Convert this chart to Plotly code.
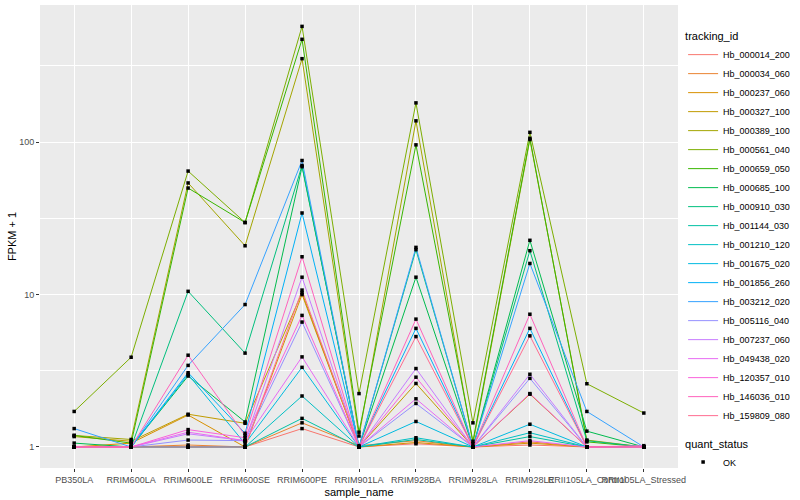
import plotly.graph_objects as go

samples = ["PB350LA", "RRIM600LA", "RRIM600LE", "RRIM600SE", "RRIM600PE", "RRIM901LA",
           "RRIM928BA", "RRIM928LA", "RRIM928LE", "RRII105LA_Control", "RRII105LA_Stressed"]

tracking_ids = ["Hb_000014_200", "Hb_000034_060", "Hb_000237_060", "Hb_000327_100",
                "Hb_000389_100", "Hb_000561_040", "Hb_000659_050", "Hb_000685_100",
                "Hb_000910_030", "Hb_001144_030", "Hb_001210_120", "Hb_001675_020",
                "Hb_001856_260", "Hb_003212_020", "Hb_005116_040", "Hb_007237_060",
                "Hb_049438_020", "Hb_120357_010", "Hb_146036_010", "Hb_159809_080"]

colors = ["#F8766D", "#EA8331", "#D89000", "#C09B00", "#A3A500", "#7CAE00", "#39B600",
          "#00BB4E", "#00BF7D", "#00C1A3", "#00BFC4", "#00BAE0", "#00B0F6", "#35A2FF",
          "#9590FF", "#C77CFF", "#E76BF3", "#FA62DB", "#FF62BC", "#FF6C91"]

# FPKM + 1 per tracking_id, in sample order
Hb_000014_200 = [1.00, 1.00, 1.00, 1.00, 1.32, 1.00, 1.05, 1.00, 1.03, 1.00, 1.00]
Hb_000034_060 = [1.00, 1.00, 1.03, 1.00, 1.44, 1.02, 1.10, 1.00, 1.08, 1.00, 1.00]
Hb_000237_060 = [1.00, 1.06, 1.62, 1.00, 10.0, 1.00, 1.07, 1.00, 1.06, 1.00, 1.00]
Hb_000327_100 = [1.17, 1.09, 1.64, 1.43, 10.3, 1.00, 2.61, 1.00, 2.22, 1.00, 1.00]
Hb_000389_100 = [1.19, 1.12, 54.0, 20.9, 353, 1.18, 138, 1.05, 104, 1.11, 1.00]
Hb_000561_040 = [1.71, 3.88, 64.6, 29.7, 575, 2.24, 181, 1.44, 116, 2.60, 1.67]
Hb_000659_050 = [1.19, 1.06, 50.0, 29.7, 473, 1.25, 96.0, 1.09, 106, 1.08, 1.00]
Hb_000685_100 = [1.06, 1.00, 2.92, 1.46, 69.0, 1.00, 13.0, 1.00, 22.7, 1.27, 1.00]
Hb_000910_030 = [1.00, 1.00, 10.5, 4.13, 70.3, 1.00, 19.7, 1.00, 19.4, 1.10, 1.00]
Hb_001144_030 = [1.00, 1.00, 1.00, 1.00, 1.54, 1.00, 1.12, 1.00, 1.17, 1.00, 1.00]
Hb_001210_120 = [1.00, 1.00, 1.00, 1.00, 2.16, 1.00, 1.15, 1.00, 1.24, 1.00, 1.00]
Hb_001675_020 = [1.00, 1.00, 2.99, 1.05, 3.33, 1.00, 1.47, 1.00, 1.41, 1.00, 1.00]
Hb_001856_260 = [1.00, 1.00, 3.07, 1.23, 34.3, 1.00, 6.00, 1.00, 6.00, 1.00, 1.00]
Hb_003212_020 = [1.32, 1.00, 3.43, 8.60, 75.8, 1.00, 20.4, 1.00, 16.0, 1.71, 1.00]
Hb_005116_040 = [1.00, 1.00, 1.11, 1.10, 6.60, 1.00, 1.93, 1.00, 2.82, 1.00, 1.00]
Hb_007237_060 = [1.00, 1.00, 1.22, 1.10, 13.0, 1.00, 3.27, 1.00, 3.00, 1.00, 1.00]
Hb_049438_020 = [1.00, 1.00, 1.25, 1.10, 3.90, 1.00, 2.07, 1.00, 1.10, 1.00, 1.00]
Hb_120357_010 = [1.00, 1.00, 1.30, 1.15, 7.30, 1.00, 2.87, 1.00, 2.24, 1.00, 1.02]
Hb_146036_010 = [1.00, 1.00, 4.00, 1.19, 17.7, 1.00, 6.90, 1.00, 7.43, 1.00, 1.00]
Hb_159809_080 = [1.00, 1.00, 1.00, 1.00, 10.7, 1.00, 5.30, 1.00, 5.36, 1.00, 1.00]

series = [Hb_000014_200, Hb_000034_060, Hb_000237_060, Hb_000327_100, Hb_000389_100,
          Hb_000561_040, Hb_000659_050, Hb_000685_100, Hb_000910_030, Hb_001144_030,
          Hb_001210_120, Hb_001675_020, Hb_001856_260, Hb_003212_020, Hb_005116_040,
          Hb_007237_060, Hb_049438_020, Hb_120357_010, Hb_146036_010, Hb_159809_080]

fig = go.Figure()
for name, vals, col in zip(tracking_ids, series, colors):
    fig.add_trace(go.Scatter(x=samples, y=vals, mode="lines", name=name,
                             line=dict(color=col, width=1), legend="legend"))

all_x = [s for vals in series for s in samples]
all_y = [v for vals in series for v in vals]
fig.add_trace(go.Scatter(x=all_x, y=all_y, mode="markers", name="OK",
                         marker=dict(symbol="square", size=3.5, color="black"),
                         legend="legend2"))

font = "Liberation Sans, Arial, sans-serif"
fig.update_layout(
    width=800, height=500,
    margin=dict(l=40, r=117, t=5, b=32),
    paper_bgcolor="white", plot_bgcolor="#EBEBEB",
    font=dict(family=font, color="black"),
    legend=dict(title=dict(text="tracking_id", font=dict(size=11)),
                font=dict(size=9), x=1.008, xanchor="left", y=0.955, yanchor="top",
                tracegroupgap=0, itemwidth=30, bgcolor="rgba(0,0,0,0)"),
    legend2=dict(title=dict(text="quant_status", font=dict(size=11)),
                 font=dict(size=9), x=1.008, xanchor="left", y=0.075, yanchor="top",
                 itemwidth=30, bgcolor="rgba(0,0,0,0)"),
    showlegend=True,
)
fig.update_xaxes(type="category", categoryorder="array", categoryarray=samples,
                 range=[-0.6, 10.6], showgrid=True, gridcolor="white", gridwidth=1.1,
                 tickangle=0, ticks="outside", ticklen=3, tickcolor="#333333",
                 tickfont=dict(size=9, color="#4D4D4D"), zeroline=False, automargin=False,
                 title=dict(text="sample_name", font=dict(size=11), standoff=4))
fig.update_yaxes(type="log", range=[-0.138, 2.90], tickvals=[1, 10, 100],
                 ticktext=["1", "10", "100"], showgrid=True, gridcolor="white",
                 gridwidth=1.1, ticks="outside", ticklen=3, tickcolor="#333333",
                 tickfont=dict(size=9, color="#4D4D4D"), zeroline=False, automargin=False,
                 minor=dict(tickvals=[10 ** 0.5, 10 ** 1.5, 10 ** 2.5], showgrid=True,
                            gridcolor="white", gridwidth=0.5, ticks=""),
                 title=dict(text="FPKM + 1", font=dict(size=11), standoff=0))

fig.write_html("out.html", config={"displayModeBar": False},
               post_script="document.body.style.margin='0px';")
